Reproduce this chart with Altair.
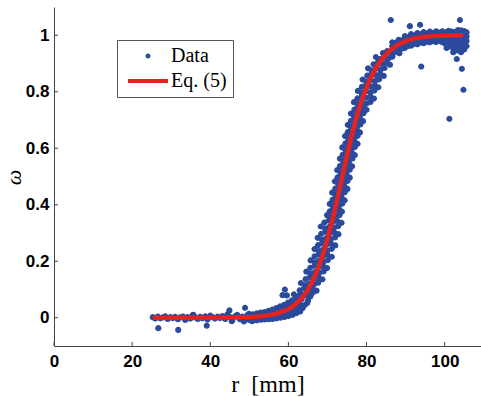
import altair as alt
import pandas as pd

X_TICKS = [0, 20, 40, 60, 80, 100]
Y_TICKS = [0, 0.2, 0.4, 0.6, 0.8, 1]
SERIES = ["Data", "Eq. (5)"]

# fitted curve (Eq. 5)
FIT_R = [25.3, 30, 35, 40, 45, 50, 53, 55, 57, 59, 60, 61, 62, 63, 64, 65, 66, 67, 68, 69, 70,
         71, 72, 73, 74, 75, 76, 77, 78, 79, 80, 81, 82, 83, 84, 85, 86, 88, 90, 92, 95, 98, 101, 104.7]
FIT_W = [0.0, 0.0, 0.0001, 0.0002, 0.0007, 0.0026, 0.0055, 0.009, 0.015, 0.024, 0.031, 0.039,
         0.050, 0.063, 0.079, 0.100, 0.125, 0.154, 0.190, 0.231, 0.279, 0.332, 0.389, 0.450,
         0.512, 0.574, 0.634, 0.688, 0.736, 0.778, 0.815, 0.847, 0.874, 0.897, 0.916, 0.932,
         0.946, 0.966, 0.979, 0.988, 0.995, 0.998, 0.999, 1.0]

# measured data, flat part
FLAT_R = [25.3, 25.9, 26.6, 27.2, 27.9, 28.5, 29.1, 29.8, 30.4, 31.0, 31.7, 32.3, 33.0, 33.6,
          34.2, 34.9, 35.5, 36.1, 36.8, 37.4, 38.0, 38.7, 39.3, 40.0, 40.6, 41.2, 41.9, 42.5,
          43.1, 43.8, 44.4, 45.0, 45.7, 46.3, 46.9, 47.6, 48.2, 48.8, 49.5, 50.1]
FLAT_W = [0.002, -0.003, 0.004, -0.002, 0.001, 0.005, -0.004, 0.002, -0.001, 0.003, -0.005,
          0.001, 0.004, -0.008, 0.002, -0.003, 0.009, 0.001, -0.004, 0.003, -0.002, 0.005,
          -0.006, 0.008, 0.002, -0.003, 0.004, -0.001, 0.006, -0.004, 0.012, 0.003, -0.006,
          0.005, 0.010, -0.005, 0.004, -0.007, 0.009, -0.004]

# measured data, foot of the rise
TOE_R = [50.0, 50.2, 49.9, 50.6, 50.4, 51.0, 51.2, 50.9, 51.6, 51.4, 52.0, 52.2, 51.9, 52.6,
         52.4, 53.0, 53.2, 52.9, 53.6, 53.4, 54.0, 54.2, 53.9, 54.6, 54.4, 55.0, 55.2, 54.9,
         55.6, 55.4, 56.0, 56.2, 55.9, 56.6, 56.4, 57.0, 57.2, 56.9, 57.6, 57.4, 58.0, 58.2,
         57.9, 58.6, 58.4, 59.0, 59.2, 58.9, 59.6, 59.4, 60.0, 60.2, 59.9, 60.6, 60.4, 61.0,
         61.2, 60.9, 61.6, 61.4, 62.0, 62.2, 61.9, 62.6, 62.4, 63.0, 63.2, 62.9, 63.6, 63.4,
         64.2, 64.8, 65.0, 65.6, 66.3]
TOE_W = [-0.008, 0.004, 0.014, -0.003, 0.009, -0.010, 0.002, 0.012, -0.004, 0.007, -0.009,
         0.001, 0.016, -0.002, 0.010, -0.007, 0.004, 0.018, -0.003, 0.012, -0.006, 0.005,
         0.020, 0.000, 0.014, -0.005, 0.007, 0.024, 0.002, 0.016, -0.004, 0.009, 0.029, 0.004,
         0.020, -0.002, 0.011, 0.034, 0.006, 0.024, 0.000, 0.014, 0.040, 0.008, 0.028, 0.003,
         0.018, 0.046, 0.012, 0.034, 0.006, 0.024, 0.054, 0.016, 0.040, 0.010, 0.030, 0.062,
         0.022, 0.048, 0.016, 0.038, 0.070, 0.028, 0.058, 0.022, 0.046, 0.080, 0.034, 0.066,
         0.045, 0.052, 0.060, 0.075, 0.090]

# measured data, steep part (one row per level)
RISE_R = [
    [61.4, 62.5, 63.6, 64.7, 65.8], [62.9, 64.0, 65.1, 66.2, 67.2], [63.2, 64.3, 65.4, 66.5, 67.6],
    [64.4, 65.5, 66.6, 67.7, 68.7], [64.6, 65.7, 66.8, 67.9, 69.0], [65.6, 66.7, 67.8, 68.9, 69.9],
    [65.7, 66.8, 67.9, 69.0, 70.1], [66.7, 67.8, 68.9, 70.0, 71.1], [66.7, 67.8, 68.9, 70.0, 71.1],
    [67.6, 68.7, 69.8, 70.9, 72.0], [67.5, 68.6, 69.7, 70.8, 71.9], [68.4, 69.5, 70.6, 71.7, 72.8],
    [68.3, 69.4, 70.5, 71.6, 72.7], [69.2, 70.3, 71.4, 72.5, 73.6],
    [69.9, 70.7, 71.5, 72.3, 73.1], [70.6, 71.4, 72.2, 73.0, 73.7], [70.6, 71.4, 72.2, 73.0, 73.8],
    [71.3, 72.1, 72.9, 73.7, 74.4], [71.2, 72.0, 72.8, 73.6, 74.4], [72.0, 72.8, 73.6, 74.4, 75.1],
    [71.9, 72.7, 73.5, 74.3, 75.1], [72.6, 73.4, 74.2, 75.0, 75.7], [72.5, 73.3, 74.1, 74.9, 75.7],
    [73.2, 74.0, 74.8, 75.6, 76.3], [73.2, 74.0, 74.8, 75.6, 76.4], [73.9, 74.7, 75.5, 76.3, 77.0],
    [73.8, 74.6, 75.4, 76.2, 77.0], [74.6, 75.4, 76.2, 77.0, 77.7], [74.5, 75.3, 76.1, 76.9, 77.7],
    [75.2, 76.0, 76.8, 77.6, 78.3], [75.2, 76.0, 76.8, 77.6, 78.4], [76.0, 76.8, 77.6, 78.4, 79.1],
    [76.0, 76.8, 77.6, 78.4, 79.2], [76.9, 77.7, 78.5, 79.3, 80.0],
    [76.8, 77.8, 78.9, 80.0, 81.0], [77.7, 78.8, 79.9, 81.0, 81.9],
    [77.8, 78.8, 79.9, 81.0, 82.0], [78.8, 79.9, 81.0, 82.1, 83.0], [79.0, 80.0, 81.1, 82.2, 83.2],
    [80.2, 81.3, 82.4, 83.5, 84.4], [80.4, 81.4, 82.5, 83.6, 84.6], [81.8, 82.9, 84.0, 85.1, 86.0],
    [82.4, 83.4, 84.5, 85.6, 86.6], [84.2, 85.3, 86.4, 87.5, 88.4]]
RISE_W = [
    [0.083, 0.076, 0.082, 0.078, 0.084], [0.097, 0.104, 0.099, 0.103, 0.096],
    [0.123, 0.116, 0.122, 0.118, 0.124], [0.137, 0.144, 0.139, 0.143, 0.136],
    [0.163, 0.156, 0.162, 0.158, 0.164], [0.177, 0.184, 0.179, 0.183, 0.176],
    [0.203, 0.196, 0.202, 0.198, 0.204], [0.217, 0.224, 0.219, 0.223, 0.216],
    [0.243, 0.236, 0.242, 0.238, 0.244], [0.257, 0.264, 0.259, 0.263, 0.256],
    [0.283, 0.276, 0.282, 0.278, 0.284], [0.297, 0.304, 0.299, 0.303, 0.296],
    [0.323, 0.316, 0.322, 0.318, 0.324], [0.337, 0.344, 0.339, 0.343, 0.336],
    [0.363, 0.356, 0.362, 0.358, 0.364], [0.377, 0.384, 0.379, 0.383, 0.376],
    [0.403, 0.396, 0.402, 0.398, 0.404], [0.417, 0.424, 0.419, 0.423, 0.416],
    [0.443, 0.436, 0.442, 0.438, 0.444], [0.457, 0.464, 0.459, 0.463, 0.456],
    [0.483, 0.476, 0.482, 0.478, 0.484], [0.497, 0.504, 0.499, 0.503, 0.496],
    [0.523, 0.516, 0.522, 0.518, 0.524], [0.537, 0.544, 0.539, 0.543, 0.536],
    [0.563, 0.556, 0.562, 0.558, 0.564], [0.577, 0.584, 0.579, 0.583, 0.576],
    [0.603, 0.596, 0.602, 0.598, 0.604], [0.617, 0.624, 0.619, 0.623, 0.616],
    [0.643, 0.636, 0.642, 0.638, 0.644], [0.657, 0.664, 0.659, 0.663, 0.656],
    [0.683, 0.676, 0.682, 0.678, 0.684], [0.697, 0.704, 0.699, 0.703, 0.696],
    [0.723, 0.716, 0.722, 0.718, 0.724], [0.737, 0.744, 0.739, 0.743, 0.736],
    [0.763, 0.756, 0.762, 0.758, 0.764], [0.777, 0.784, 0.779, 0.783, 0.776],
    [0.803, 0.796, 0.802, 0.798, 0.804], [0.817, 0.824, 0.819, 0.823, 0.816],
    [0.843, 0.836, 0.842, 0.838, 0.844], [0.857, 0.864, 0.859, 0.863, 0.856],
    [0.883, 0.876, 0.882, 0.878, 0.884], [0.897, 0.904, 0.899, 0.903, 0.896],
    [0.923, 0.916, 0.922, 0.918, 0.924], [0.937, 0.944, 0.939, 0.943, 0.936]]

# measured data, plateau (one row per column)
TOP_R = [86.6, 87.4, 88.2, 89.0, 89.8, 90.6, 91.4, 92.2, 93.0, 93.8, 94.6, 95.4, 96.2, 97.0,
         97.8, 98.6, 99.4, 100.2, 101.0, 101.8, 102.6, 103.4, 104.2, 105.0, 105.6]
TOP_W = [
    [0.928, 0.945, 0.961, 0.975], [0.942, 0.957, 0.972], [0.940, 0.955, 0.969, 0.984],
    [0.952, 0.968, 0.982], [0.955, 0.970, 0.984, 0.997], [0.962, 0.978, 0.993],
    [0.963, 0.978, 0.991, 1.004], [0.970, 0.985, 0.999], [0.968, 0.983, 0.996, 1.008],
    [0.974, 0.989, 1.003], [0.972, 0.986, 0.999, 1.011], [0.977, 0.992, 1.006],
    [0.975, 0.988, 1.001, 1.013], [0.979, 0.994, 1.008], [0.976, 0.989, 1.002, 1.014],
    [0.980, 0.995, 1.009], [0.975, 0.988, 1.001, 1.014], [0.970, 0.984, 0.998, 1.010],
    [0.963, 0.978, 0.992, 1.005, 1.016], [0.958, 0.972, 0.987, 1.000, 1.013],
    [0.952, 0.968, 0.983, 0.997, 1.011], [0.946, 0.962, 0.978, 0.993, 1.008, 1.018],
    [0.940, 0.957, 0.974, 0.990, 1.005, 1.017], [0.950, 0.968, 0.985, 1.001, 1.015],
    [0.962, 0.980, 0.996, 1.010]]

# isolated points
OUT_R = [26.7, 31.8, 39.1, 44.9, 48.9, 35.7, 45.5, 48.6, 50.7, 58.5, 59.1, 59.6, 86.2, 91.1,
         93.7, 103.9, 94.0, 103.1, 104.4, 104.8, 101.2, 100.5, 102.2]
OUT_W = [-0.037, -0.043, -0.028, 0.026, 0.035, 0.010, -0.012, -0.013, -0.012, 0.080, 0.100,
         0.079, 1.054, 1.032, 1.037, 1.054, 0.889, 0.916, 0.881, 0.807, 0.704, 0.955, 0.940]

BLUE = "#2b4a9c"
RED = "#e42320"

data_r = FLAT_R + TOE_R + [v for row in RISE_R for v in row] + OUT_R
data_w = FLAT_W + TOE_W + [v for row in RISE_W for v in row] + OUT_W
for rv, col in zip(TOP_R, TOP_W):
    data_r += [rv] * len(col)
    data_w += col

pts = pd.DataFrame({"r": data_r, "w": data_w, "s": "Data"})
fit = pd.DataFrame({"r": FIT_R, "w": FIT_W, "s": "Eq. (5)"})
xt = pd.DataFrame({"r": X_TICKS})
yt = pd.DataFrame({"w": Y_TICKS})

xs = alt.Scale(domain=[0, 109.3], nice=False, zero=False)
ys = alt.Scale(domain=[-0.1, 1.1], nice=False, zero=False)

xaxis = alt.Axis(values=X_TICKS, title="r\u00a0 [mm]", ticks=False, grid=False,
                 labelFont="Liberation Sans", labelFontWeight="bold", labelFontSize=17,
                 labelColor="black", labelPadding=7, labelFlush=False, labelOverlap=False,
                 domainColor="#444444", titleFont="Liberation Serif", titleFontSize=24,
                 titleFontWeight="normal", titleColor="black", titleBaseline="alphabetic",
                 titleY=45)
yaxis = alt.Axis(values=Y_TICKS, format="~g", title="ω", ticks=False, grid=False,
                 labelFont="Liberation Sans", labelFontWeight="bold", labelFontSize=17,
                 labelColor="black", labelPadding=5, labelFlush=False, labelOverlap=False,
                 domainColor="#444444", titleFont="Liberation Serif", titleFontSize=22,
                 titleFontStyle="italic", titleFontWeight="normal", titleColor="black",
                 titleX=-41, titleY=170, titleBaseline="middle")

CIRCLE = "M0.62,0A0.62,0.62 0 1,1 -0.62,0A0.62,0.62 0 1,1 0.62,0Z"
DASH = "M-5,0L5,0"

leg = alt.Legend(title=None, orient="none", legendX=63, legendY=33, padding=6,
                 fillColor="white", strokeColor="#555555", symbolSize=64,
                 symbolStrokeWidth=4, symbolOpacity=1, symbolOffset=15,
                 labelFont="Liberation Serif", labelFontSize=20, labelColor="black",
                 labelOffset=13, rowPadding=4,
                 labelExpr="datum.label + '\u00a0\u00a0'")

fill_sc = alt.Scale(domain=SERIES, range=[BLUE, RED])
stroke_sc = alt.Scale(domain=SERIES, range=["transparent", RED])
shape_sc = alt.Scale(domain=SERIES, range=[CIRCLE, DASH])

x_enc = alt.X("r:Q", scale=xs, axis=xaxis)
y_enc = alt.Y("w:Q", scale=ys, axis=yaxis)

points = alt.Chart(pts).mark_point(filled=True, size=100, opacity=1, strokeWidth=0).encode(
    x=x_enc, y=y_enc,
    fill=alt.Fill("s:N", scale=fill_sc, legend=leg),
    stroke=alt.Stroke("s:N", scale=stroke_sc, legend=leg),
    shape=alt.Shape("s:N", scale=shape_sc, legend=leg),
)
line = alt.Chart(fit).mark_line(strokeWidth=4.5).encode(
    x=x_enc, y=y_enc,
    stroke=alt.Stroke("s:N", scale=stroke_sc, legend=leg),
)
xticks = alt.Chart(xt).mark_rule(color="#444444", strokeWidth=1).encode(
    x=alt.X("r:Q", scale=xs, axis=xaxis), y=alt.value(339), y2=alt.value(335))
yticks = alt.Chart(yt).mark_rule(color="#444444", strokeWidth=1).encode(
    y=alt.Y("w:Q", scale=ys, axis=yaxis), x=alt.value(0), x2=alt.value(4))

chart = alt.layer(points, line, xticks, yticks).properties(
    width=427, height=339,
    autosize=alt.AutoSizeParams(type="none"),
    padding={"left": 54, "top": 7, "right": 0, "bottom": 51},
    background="white",
).configure_view(stroke=None)

chart.save("out.html", embed_options={"renderer": "svg", "actions": False})
